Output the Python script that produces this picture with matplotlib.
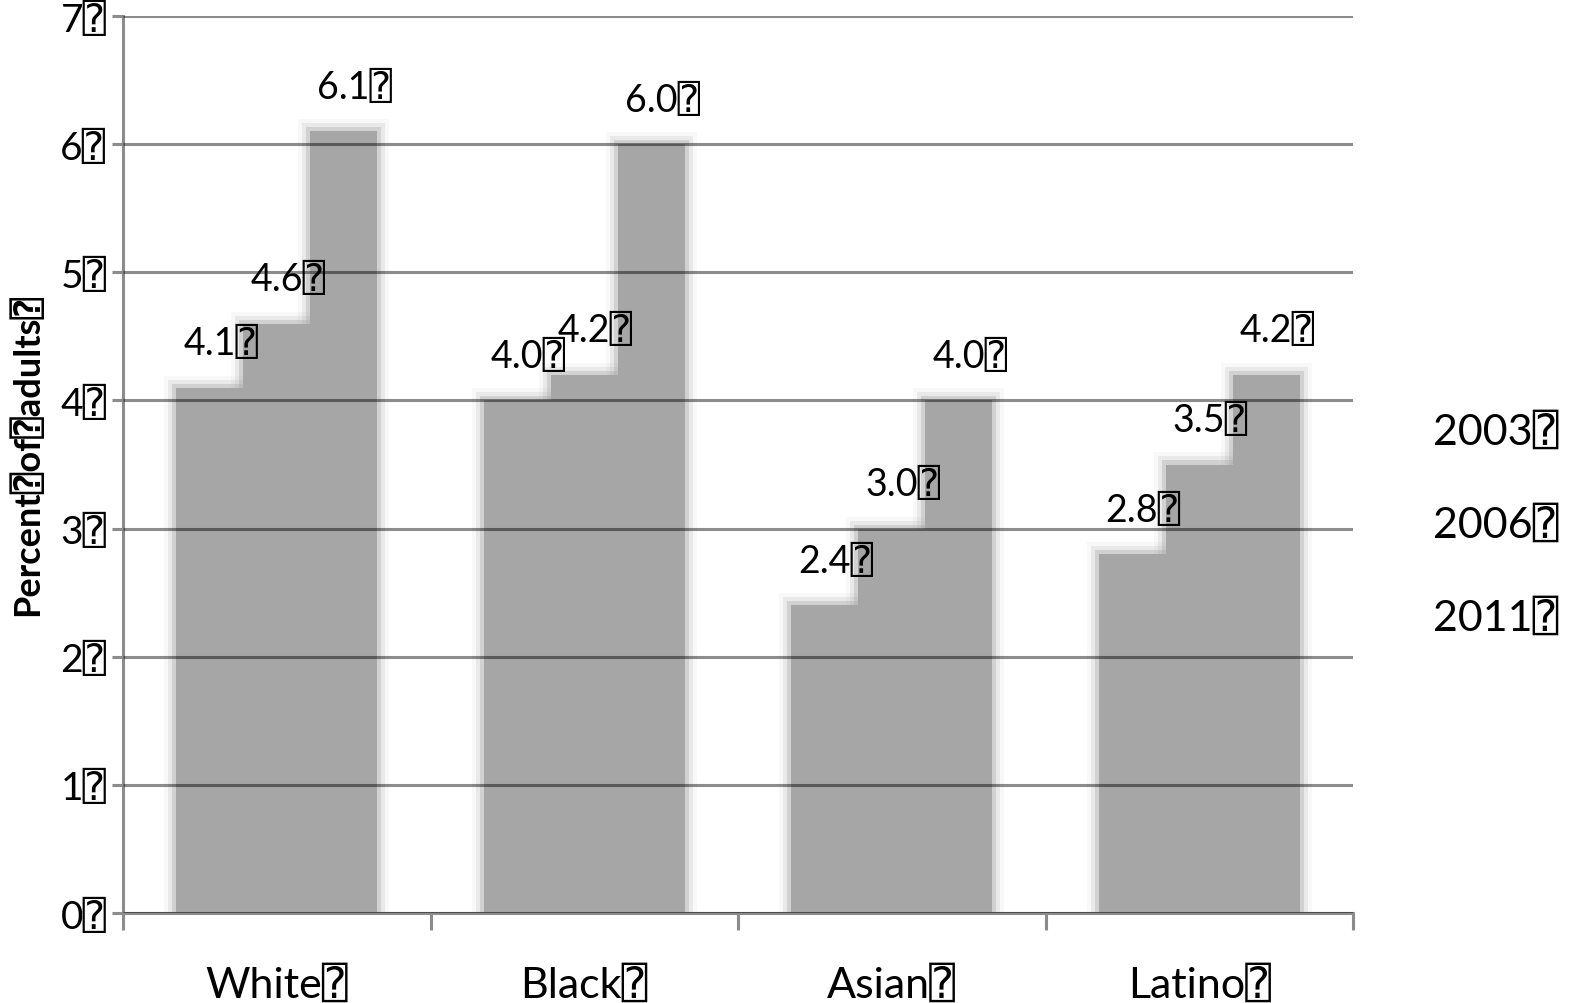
import matplotlib.pyplot as plt
import numpy as np

# data
groups = ['White', 'Black', 'Asian', 'Latino']
years = ['2003', '2006', '2011']
v2003 = [4.1, 4.0, 2.4, 2.8]
v2006 = [4.6, 4.2, 3.0, 3.5]
v2011 = [6.1, 6.0, 4.0, 4.2]
yticks = [0, 1, 2, 3, 4, 5, 6, 7]

box = '\u2370'  # the unrendered glyph that trails every label in the original
fams = ['Lato', 'DejaVu Sans', 'DejaVu Sans Mono']
plt.rcParams['font.family'] = fams

fig = plt.figure(figsize=(15.71, 10.04), dpi=100)
ax = fig.add_axes([123/1571, 90/1004, 1230/1571, 897/1004])

x = np.arange(len(groups))
w = 0.218
gray = '#a6a6a6'
px_x = 1/307.5   # one pixel in data units
px_y = 1/128.1

series = [v2003, v2006, v2011]
for i, vals in enumerate(series):
    pos = x + (i - 1)*w
    # soft blurred edge
    for k, a in [(12, 0.08), (8, 0.18), (4, 0.35)]:
        ax.bar(pos, np.array(vals) + k*px_y, width=w + 2*k*px_x, color=gray,
               alpha=a, linewidth=0, zorder=1)
    ax.bar(pos, vals, width=w, color=gray, linewidth=0, zorder=2)
    for p, v in zip(pos, vals):
        ax.annotate(f'{v:.1f}' + box, (p, v), xytext=(8, 32), textcoords='offset points',
                    ha='center', va='center', fontsize=27, family=fams, zorder=5)

ax.set_xlim(-0.5, 3.5)
ax.set_ylim(0, 7)
ax.set_yticks(yticks)
ax.set_yticklabels([f'{t}' + box for t in yticks], fontsize=28)
ax.yaxis.grid(True, color='black', alpha=0.45, linewidth=2.2, zorder=4)
ax.set_axisbelow(False)
ax.set_xticks(x)
ax.set_xticklabels([g + box for g in groups], fontsize=31)
ax.set_xticks(np.arange(-0.5, 4, 1), minor=True)
ax.tick_params(axis='x', which='major', length=0, pad=37)
ax.tick_params(axis='x', which='minor', length=12, width=2.2, color='#8c8c8c')
ax.tick_params(axis='y', length=8, width=2.2, color='#8c8c8c', pad=4)

for s in ['top', 'right']:
    ax.spines[s].set_visible(False)
for s in ['left', 'bottom']:
    ax.spines[s].set_color('#8c8c8c')
    ax.spines[s].set_linewidth(2.2)

fig.text(27/1571, 1 - 455/1004, 'Percent' + box + 'of' + box + 'adults' + box,
         rotation=90, ha='center', va='center', fontsize=26, fontweight='bold')

for j, yr in enumerate(years):
    fig.text(1433/1571, 1 - (432 + 93*j)/1004, yr + box, ha='left', va='center',
             fontsize=31)

plt.savefig('out.png', dpi=100)
